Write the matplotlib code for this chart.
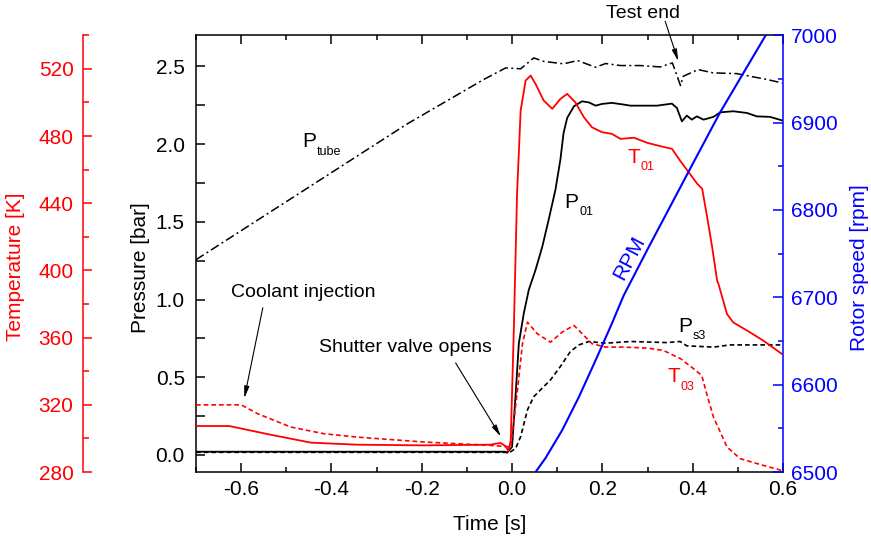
import numpy as np
import matplotlib.pyplot as plt
from matplotlib.ticker import MultipleLocator

plt.rcParams['font.family'] = ['Liberation Sans', 'DejaVu Sans']

# ---- pressure traces [bar] ----
t_tube = [-0.70, -0.232, -0.063, -0.014, 0.019, 0.048, 0.070, 0.114, 0.145, 0.185,
          0.207, 0.240, 0.284, 0.328, 0.355, 0.373, 0.379, 0.412, 0.445, 0.498,
          0.527, 0.565, 0.598]
p_tube = [1.256, 2.13, 2.415, 2.49, 2.484, 2.554, 2.532, 2.516, 2.537, 2.494,
          2.518, 2.505, 2.505, 2.496, 2.522, 2.376, 2.436, 2.479, 2.458, 2.453,
          2.436, 2.415, 2.393]

t_p01 = [-0.70, -0.015, -0.011, 0.000, 0.008, 0.015, 0.026, 0.037, 0.052, 0.067,
         0.081, 0.096, 0.107, 0.114, 0.122, 0.137, 0.155, 0.170, 0.185, 0.199,
         0.221, 0.247, 0.262, 0.321, 0.354, 0.365, 0.376, 0.387, 0.398, 0.409,
         0.424, 0.446, 0.461, 0.490, 0.520, 0.542, 0.571, 0.597]
p_p01 = [0.021, 0.021, 0.015, 0.053, 0.397, 0.719, 0.912, 1.062, 1.191, 1.341,
         1.513, 1.706, 1.900, 2.071, 2.168, 2.243, 2.275, 2.268, 2.247, 2.258,
         2.265, 2.254, 2.247, 2.247, 2.260, 2.232, 2.146, 2.183, 2.157, 2.178,
         2.157, 2.175, 2.204, 2.211, 2.200, 2.178, 2.175, 2.153]

t_ps3 = [-0.70, -0.005, 0.008, 0.019, 0.034, 0.048, 0.063, 0.085, 0.107, 0.129,
         0.148, 0.170, 0.207, 0.262, 0.343, 0.372, 0.387, 0.446, 0.483, 0.597]
p_ps3 = [0.017, 0.017, 0.043, 0.118, 0.290, 0.375, 0.419, 0.483, 0.569, 0.665,
         0.708, 0.730, 0.719, 0.730, 0.723, 0.730, 0.702, 0.694, 0.708, 0.708]

# ---- temperature traces [K] ----
t_t01 = [-0.70, -0.626, -0.534, -0.445, -0.342, -0.196, -0.048, -0.032, -0.025, -0.014,
         -0.008, -0.003, 0.004, 0.011, 0.019, 0.030, 0.041, 0.052, 0.070, 0.089,
         0.107, 0.122, 0.140, 0.159, 0.177, 0.199, 0.221, 0.240, 0.270, 0.299,
         0.328, 0.354, 0.373, 0.391, 0.410, 0.421, 0.432, 0.443, 0.454, 0.457,
         0.476, 0.490, 0.520, 0.556, 0.597]
temp_t01 = [307.4, 307.4, 302.2, 297.5, 296.3, 295.9, 296.3, 297.1, 297.3, 295.3,
            292.5, 298.9, 366.3, 445.6, 495.2, 513.0, 516.0, 511.0, 501.1, 496.2,
            502.1, 505.1, 500.1, 491.2, 485.2, 482.3, 481.3, 478.3, 479.0, 476.0,
            474.0, 472.4, 465.0, 458.5, 451.6, 448.6, 431.7, 414.0, 394.0, 392.0,
            374.0, 369.0, 364.3, 358.3, 350.4]

t_t03 = [-0.70, -0.60, -0.563, -0.490, -0.416, -0.342, -0.195, -0.048, -0.018, -0.003,
         0.011, 0.023, 0.034, 0.056, 0.085, 0.111, 0.137, 0.159, 0.177, 0.207,
         0.247, 0.299, 0.335, 0.373, 0.402, 0.420, 0.431, 0.446, 0.476, 0.505,
         0.556, 0.597]
temp_t03 = [320.0, 320.0, 314.7, 306.8, 302.8, 300.8, 297.9, 295.9, 295.3, 294.9,
            326.6, 356.4, 369.2, 362.3, 357.3, 363.3, 367.3, 361.3, 356.4, 354.4,
            354.4, 353.8, 352.4, 347.5, 341.5, 337.5, 326.6, 312.7, 294.9, 288.0,
            284.0, 281.0]

# ---- rotor speed [rpm] ----
t_rpm = [0.052, 0.074, 0.111, 0.148, 0.185, 0.221, 0.247, 0.299, 0.391, 0.461,
         0.564, 0.60]
rpm = [6500, 6516, 6548, 6586, 6628, 6670, 6702, 6754, 6844, 6912, 7002, 7036]

RED = '#ff0000'
BLUE = '#0000ff'
dashdot = (0, (6, 2.2, 1.3, 2.2))
dashed = (0, (2.8, 1.8))

fig = plt.figure(figsize=(8.71, 5.42), dpi=100)
ax = fig.add_axes([0.225, 0.129, 0.674, 0.806])
ax_t = ax.twinx()
ax_r = ax.twinx()

# pressure
ax.plot(t_tube, p_tube, color='k', lw=1.1, ls=dashdot)
ax.plot(t_p01, p_p01, color='k', lw=1.3)
ax.plot(t_ps3, p_ps3, color='k', lw=1.2, ls=dashed)
ax.set_xlim(-0.7, 0.6)
ax.set_ylim(-0.11, 2.70)

# temperature
ax_t.plot(t_t01, temp_t01, color=RED, lw=1.3)
ax_t.plot(t_t03, temp_t03, color=RED, lw=1.2, ls=dashed)
ax_t.set_ylim(280, 540)

# rpm
ax_r.plot(t_rpm, rpm, color=BLUE, lw=1.5)
ax_r.set_ylim(6500, 7000)

# ---- axes styling ----
for s in ax.spines.values():
    s.set_linewidth(1.1)
ax.spines['right'].set_visible(False)
ax.xaxis.set_major_locator(MultipleLocator(0.2))
ax.xaxis.set_minor_locator(MultipleLocator(0.1))
ax.yaxis.set_major_locator(MultipleLocator(0.5))
ax.yaxis.set_minor_locator(MultipleLocator(0.25))
ax.tick_params(which='both', direction='in', top=True, right=False,
               width=1.1, labelsize=15, pad=6)
ax.tick_params(axis='x', which='major', length=6.5)
ax.tick_params(axis='x', which='minor', length=3.5)
ax.tick_params(axis='y', which='both', length=6.5, pad=8)
ax.set_xticks([-0.6, -0.4, -0.2, 0.0, 0.2, 0.4, 0.6])
ax.set_xticklabels(['-0.6', '-0.4', '-0.2', '0.0', '0.2', '0.4', '0.6'])

for k in ['top', 'bottom', 'right']:
    ax_t.spines[k].set_visible(False)
ax_t.spines['left'].set_visible(True)
ax_t.spines['left'].set_position(('axes', -0.192))
ax_t.spines['left'].set_color(RED)
ax_t.spines['left'].set_linewidth(1.1)
ax_t.yaxis.tick_left()
ax_t.yaxis.set_label_position('left')
ax_t.yaxis.set_major_locator(MultipleLocator(40))
ax_t.yaxis.set_minor_locator(MultipleLocator(20))
ax_t.tick_params(axis='y', which='both', direction='in', colors=RED,
                 width=1.1, labelsize=15, pad=7)
ax_t.tick_params(axis='y', which='major', length=6.5)
ax_t.tick_params(axis='y', which='minor', length=4)

for k in ['top', 'bottom', 'left']:
    ax_r.spines[k].set_visible(False)
ax_r.spines['right'].set_color(BLUE)
ax_r.spines['right'].set_linewidth(1.1)
ax_r.yaxis.set_major_locator(MultipleLocator(100))
ax_r.yaxis.set_minor_locator(MultipleLocator(50))
ax_r.tick_params(axis='y', which='both', direction='in', colors=BLUE,
                 width=1.1, labelsize=15, pad=6)
ax_r.tick_params(axis='y', which='major', length=7)
ax_r.tick_params(axis='y', which='minor', length=3.5)

ax.set_xlabel('Time [s]', fontsize=15, labelpad=11)
ax.set_ylabel('Pressure [bar]', fontsize=15)
ax.yaxis.set_label_coords(-0.078, 0.469)
ax_t.set_ylabel('Temperature [K]', fontsize=15, color=RED)
ax_t.yaxis.set_label_coords(-0.291, 0.469)
ax_r.set_ylabel('Rotor speed [rpm]', fontsize=15, color=BLUE)
ax_r.yaxis.set_label_coords(1.114, 0.469)


# ---- curve labels (letter + subscript) ----
def sublabel(x, y, main, sub, color, wmain):
    ax.text(x, y, main, fontsize=15, color=color, va='baseline', ha='left')
    ax.annotate(sub, xy=(x, y), xytext=(wmain, -5.5), textcoords='offset points',
                fontsize=9, color=color, va='baseline', ha='left')


sublabel(-0.465, 1.98, 'P', 'tube', 'k', 10.5)
sublabel(0.255, 1.88, 'T', '01', RED, 9.5)
sublabel(0.116, 1.59, 'P', '01', 'k', 10.5)
sublabel(0.368, 0.792, 'P', 's3', 'k', 10.5)
sublabel(0.344, 0.47, 'T', '03', RED, 9.5)

ax.text(0.260, 1.265, 'RPM', fontsize=15, color=BLUE, rotation=62,
        ha='center', va='center', rotation_mode='anchor')

# ---- event annotations ----
arrow = dict(arrowstyle='-|>,head_width=0.15,head_length=0.7', color='k',
             lw=0.8, shrinkA=0, shrinkB=0)
ax.text(-0.622, 1.043, 'Coolant injection', fontsize=14, va='center', ha='left')
ax.annotate('', xy=(-0.593, 0.365), xytext=(-0.552, 0.947), arrowprops=arrow)
ax.text(-0.428, 0.689, 'Shutter valve opens', fontsize=14, va='center', ha='left')
ax.annotate('', xy=(-0.025, 0.118), xytext=(-0.125, 0.592), arrowprops=arrow)
ax.text(0.207, 2.84, 'Test end', fontsize=14, va='center', ha='left', clip_on=False)
ax.annotate('', xy=(0.368, 2.533), xytext=(0.339, 2.79), arrowprops=arrow,
            annotation_clip=False)

fig.savefig('out.png', dpi=100)
